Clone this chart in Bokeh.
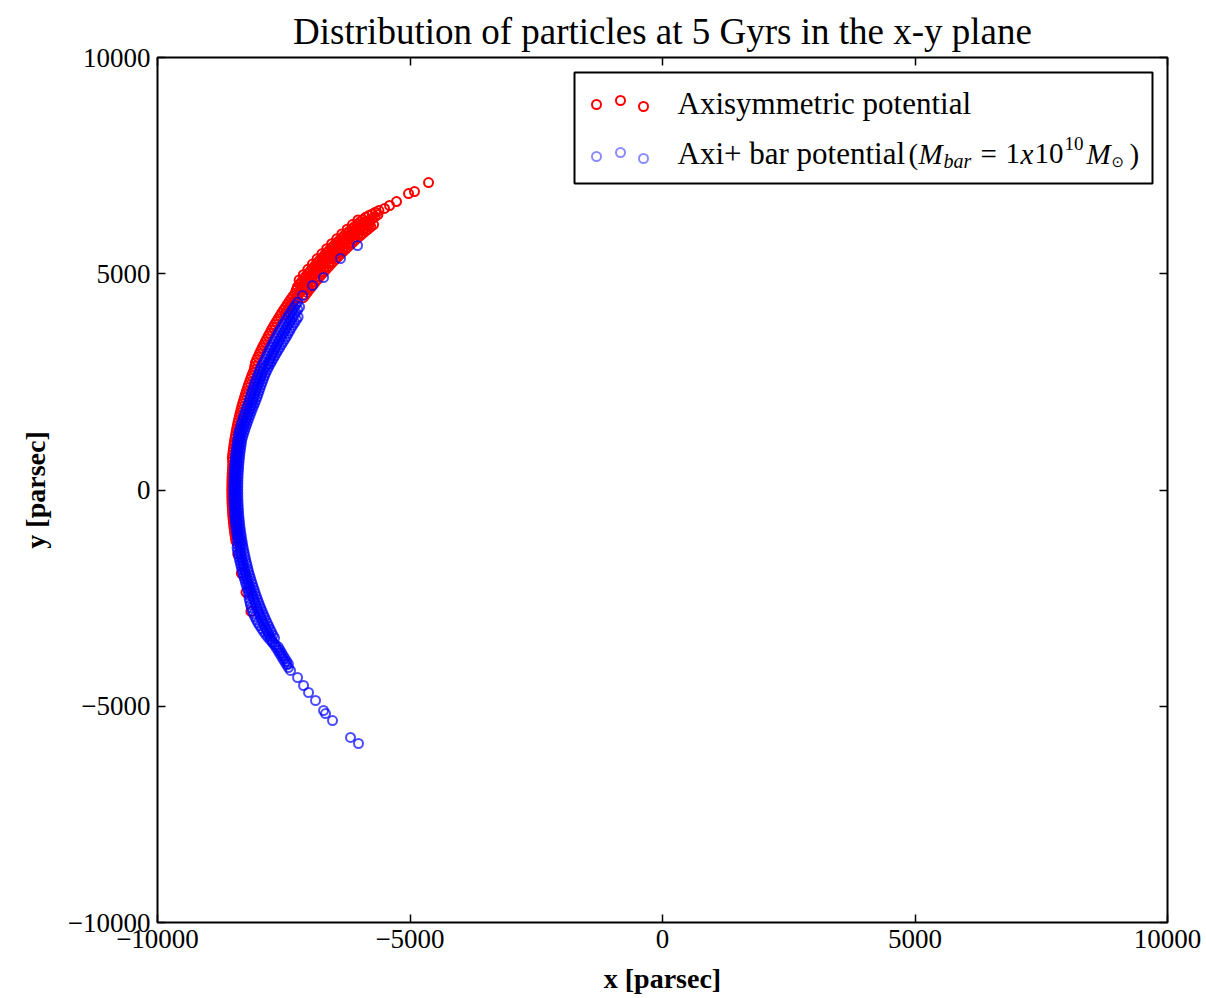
from bokeh.plotting import figure
from bokeh.models import Range1d, LinearAxis, FixedTicker, Label, BoxAnnotation
from bokeh.embed import file_html
from bokeh.resources import INLINE

TITLE = "Distribution of particles at 5 Gyrs in the x-y plane"
X_LABEL = "x [parsec]"
Y_LABEL = "y [parsec]"
tick_values = [-10000, -5000, 0, 5000, 10000]
tick_labels = ["\u221210000", "\u22125000", "0", "5000", "10000"]
series_names = ["Axisymmetric potential", "Axi+ bar potential"]

# ---------------- Axisymmetric potential (red) — particle (x, y) [pc]
red_sparse = [(-4633, 7109), (-4911, 6901), (-5029, 6855), (-5267, 6670), (-5405, 6578), (-5504, 6509)]
red_edge = [
    (-6030, 6244), (-6138, 6138), (-6244, 6030), (-6349, 5920), (-6450, 5808), (-6551, 5695), (-6649, 5580),
    (-6745, 5462), (-6840, 5344), (-6932, 5224), (-7022, 5102), (-7111, 4979), (-7196, 4854),
]
red_outer = [
    (-5616, 6460), (-5682, 6422), (-5748, 6383), (-5814, 6344), (-5879, 6305), (-5934, 6253), (-5988, 6200),
    (-6042, 6148), (-6095, 6095), (-6148, 6042), (-6200, 5988), (-6253, 5934), (-6305, 5879), (-6356, 5824),
    (-6406, 5768), (-6456, 5712), (-6506, 5656), (-6555, 5599), (-6603, 5541), (-6651, 5483), (-6699, 5425),
    (-6746, 5366), (-6793, 5307), (-6839, 5248), (-6884, 5188), (-6929, 5128), (-6974, 5067), (-7018, 5006),
    (-7062, 4944), (-7104, 4882), (-7146, 4820), (-7188, 4757), (-7230, 4694), (-7253, 4621), (-7276, 4547),
    (-7316, 4483), (-7355, 4419), (-7393, 4355), (-7430, 4290), (-7467, 4225), (-7504, 4160), (-7540, 4094),
    (-7575, 4028), (-7610, 3962), (-7645, 3895), (-7679, 3828), (-7712, 3761), (-7744, 3694), (-7776, 3626),
    (-7807, 3558), (-7838, 3489), (-7868, 3421), (-7898, 3352), (-7927, 3283), (-7955, 3214), (-7983, 3145),
    (-8010, 3075), (-8037, 3005), (-8063, 2934), (-8074, 2859), (-8084, 2784), (-8108, 2713), (-8132, 2642),
    (-8154, 2571), (-8176, 2500), (-8198, 2428), (-8219, 2356), (-8239, 2285), (-8258, 2213), (-8277, 2141),
    (-8296, 2068), (-8314, 1996), (-8331, 1924), (-8347, 1851), (-8363, 1778), (-8378, 1705), (-8393, 1631),
    (-8407, 1558), (-8420, 1484), (-8433, 1411), (-8445, 1337), (-8456, 1264), (-8467, 1190), (-8477, 1116),
    (-8486, 1042), (-8495, 968), (-8503, 893), (-8511, 820), (-8518, 746), (-8514, 671), (-8510, 595),
    (-8514, 521), (-8518, 446), (-8522, 372), (-8525, 298), (-8527, 224), (-8528, 149), (-8529, 75), (-8530, 0),
    (-8529, -75), (-8528, -149), (-8527, -224), (-8525, -298), (-8522, -372), (-8518, -446), (-8514, -521),
    (-8510, -595), (-8504, -670), (-8498, -744), (-8491, -818), (-8483, -892), (-8475, -966), (-8466, -1040),
    (-8457, -1114), (-8447, -1187),
    (-8410, -1483), (-8341, -1926), (-8248, -2365), (-8150, -2807),
]
red_outer_mid = [
    (-5893, 6209), (-6000, 6105), (-6105, 6000), (-6209, 5893), (-6311, 5783), (-6411, 5672), (-6509, 5560),
    (-6605, 5445), (-6699, 5329), (-6792, 5211), (-6881, 5091), (-6969, 4971), (-7054, 4848), (-7138, 4724),
]
red_mid = [
    (-5635, 6369), (-5691, 6320), (-5746, 6270), (-5800, 6221), (-5855, 6169), (-5908, 6118), (-5961, 6066),
    (-6014, 6014), (-6066, 5961), (-6118, 5908), (-6169, 5855), (-6221, 5800), (-6270, 5746), (-6320, 5691),
    (-6369, 5635), (-6419, 5580), (-6467, 5524), (-6515, 5467), (-6562, 5410), (-6609, 5352), (-6656, 5294),
    (-6702, 5237), (-6748, 5178), (-6792, 5118), (-6837, 5059), (-6881, 4999), (-6924, 4939), (-6967, 4878),
    (-7009, 4817), (-7051, 4756), (-7092, 4694), (-7133, 4632), (-7173, 4570), (-7212, 4507), (-7251, 4444),
    (-7290, 4380), (-7328, 4316), (-7365, 4253), (-7402, 4188), (-7438, 4123), (-7474, 4059),
]
red_inner_mid = [
    (-5814, 6126), (-5919, 6023), (-6023, 5919), (-6126, 5814), (-6226, 5705), (-6324, 5596), (-6422, 5485),
    (-6516, 5372), (-6609, 5257), (-6700, 5141), (-6789, 5023), (-6875, 4904), (-6960, 4783), (-7042, 4661),
]
red_inner = [
    (-5722, 6136), (-5776, 6086), (-5829, 6035), (-5881, 5984), (-5933, 5933), (-5984, 5881), (-6035, 5829),
    (-6086, 5776), (-6136, 5722), (-6186, 5668), (-6235, 5614), (-6284, 5560), (-6332, 5505), (-6380, 5449),
    (-6427, 5393), (-6474, 5337), (-6520, 5280), (-6566, 5223), (-6611, 5166), (-6656, 5108), (-6700, 5049),
    (-6744, 4991), (-6788, 4932), (-6831, 4872), (-6873, 4812), (-6914, 4752), (-6955, 4692), (-6996, 4631),
    (-7037, 4569), (-7076, 4508), (-7115, 4446),
]

# ---------------- Axi + bar potential (blue) — particle (x, y) [pc]
blue_sparse_top = [(-6039, 5653), (-6376, 5352), (-6712, 4913), (-6930, 4728), (-7128, 4497)]
blue_outer = [
    (-7226, 4341), (-7263, 4278), (-7300, 4215), (-7337, 4151), (-7373, 4087), (-7408, 4023), (-7443, 3958),
    (-7477, 3893), (-7511, 3827), (-7544, 3762), (-7577, 3696), (-7609, 3630), (-7640, 3563), (-7671, 3496),
    (-7701, 3428), (-7731, 3361), (-7760, 3294), (-7788, 3226), (-7816, 3158), (-7843, 3090), (-7870, 3021),
    (-7901, 2954), (-7931, 2886), (-7956, 2817), (-7980, 2748), (-8004, 2678), (-8027, 2608), (-8049, 2538),
    (-8071, 2468), (-8092, 2397), (-8113, 2326), (-8133, 2255), (-8152, 2184), (-8171, 2113), (-8189, 2042),
    (-8212, 1972), (-8234, 1901), (-8255, 1830), (-8275, 1759), (-8295, 1688), (-8314, 1616), (-8333, 1544),
    (-8351, 1472), (-8369, 1400), (-8386, 1328), (-8397, 1255), (-8408, 1182), (-8417, 1109), (-8426, 1035),
    (-8435, 961), (-8443, 887), (-8451, 814), (-8458, 740), (-8464, 667), (-8470, 593), (-8474, 519),
    (-8478, 444), (-8482, 370), (-8485, 296), (-8487, 222), (-8488, 148), (-8489, 74), (-8490, 0),
    (-8489, -74), (-8488, -148), (-8487, -222), (-8485, -296), (-8482, -370), (-8478, -444), (-8474, -519),
    (-8470, -593), (-8464, -667), (-8458, -740), (-8451, -814), (-8443, -887), (-8435, -961), (-8426, -1035),
    (-8417, -1109), (-8408, -1182), (-8417, -1258), (-8425, -1334), (-8413, -1408), (-8400, -1481),
    (-8387, -1555), (-8373, -1628), (-8358, -1701), (-8343, -1773), (-8328, -1846), (-8312, -1919),
    (-8295, -1991), (-8277, -2063), (-8258, -2136), (-8239, -2208), (-8220, -2280), (-8200, -2351),
    (-8193, -2427), (-8186, -2503), (-8173, -2577), (-8160, -2651), (-8141, -2724), (-8122, -2797),
    (-8097, -2868), (-8072, -2938), (-8041, -3007), (-8010, -3075), (-7974, -3141), (-7937, -3207),
    (-7899, -3272), (-7861, -3337), (-7818, -3399), (-7774, -3461), (-7730, -3523), (-7685, -3584),
    (-7649, -3649), (-7613, -3713), (-7580, -3779), (-7547, -3845), (-7513, -3911), (-7478, -3977),
    (-7443, -4042), (-7408, -4106),
]
blue_mid = [
    (-7186, 4233), (-7222, 4170), (-7258, 4107), (-7294, 4044), (-7329, 3980), (-7364, 3916), (-7398, 3851),
    (-7431, 3786), (-7463, 3721), (-7496, 3656), (-7528, 3590), (-7559, 3525), (-7589, 3459), (-7619, 3392),
    (-7648, 3325), (-7677, 3259), (-7705, 3192), (-7733, 3125), (-7760, 3057), (-7786, 2989), (-7812, 2921),
    (-7853, 2859), (-7894, 2796), (-7918, 2727), (-7942, 2657), (-7965, 2588), (-7987, 2518), (-8009, 2449),
    (-8030, 2379), (-8050, 2309), (-8070, 2238), (-8089, 2168), (-8108, 2097), (-8126, 2027), (-8144, 1956),
    (-8168, 1886), (-8191, 1816), (-8214, 1746), (-8236, 1676), (-8258, 1605), (-8279, 1534), (-8299, 1463),
    (-8319, 1392), (-8338, 1321), (-8357, 1249), (-8367, 1176), (-8377, 1103), (-8387, 1030), (-8396, 957),
    (-8404, 884), (-8411, 810), (-8418, 737), (-8424, 663), (-8429, 590), (-8434, 516), (-8438, 442),
    (-8442, 368), (-8445, 295), (-8447, 221), (-8449, 148), (-8450, 74), (-8450, 0), (-8450, -74),
    (-8449, -148), (-8447, -221), (-8445, -295), (-8442, -368), (-8438, -442), (-8434, -516), (-8429, -590),
    (-8424, -663), (-8418, -737), (-8411, -810), (-8404, -884), (-8396, -957), (-8387, -1030), (-8377, -1103),
    (-8367, -1176), (-8357, -1249), (-8361, -1324), (-8364, -1399), (-8351, -1472), (-8338, -1545),
    (-8324, -1618), (-8310, -1691), (-8295, -1764), (-8279, -1836), (-8263, -1908), (-8246, -1980),
    (-8228, -2052), (-8209, -2123), (-8190, -2195), (-8171, -2266), (-8151, -2337), (-8131, -2408),
    (-8109, -2479), (-8087, -2550), (-8065, -2621), (-8042, -2691), (-8018, -2761), (-7993, -2831),
    (-7968, -2901), (-7943, -2970), (-7917, -3039), (-7890, -3108), (-7863, -3177), (-7835, -3245),
    (-7806, -3313), (-7776, -3381), (-7746, -3449), (-7716, -3517), (-7663, -3573), (-7609, -3629),
    (-7577, -3695), (-7544, -3761), (-7511, -3827), (-7477, -3893), (-7443, -3958), (-7408, -4023),
]
blue_inner = [
    (-7215, 4000), (-7250, 3937), (-7284, 3873), (-7318, 3810), (-7351, 3746), (-7383, 3682), (-7415, 3617),
    (-7446, 3552), (-7477, 3486), (-7512, 3423), (-7546, 3359), (-7580, 3295), (-7613, 3231), (-7645, 3167),
    (-7677, 3102), (-7709, 3037), (-7740, 2971), (-7770, 2905), (-7800, 2839), (-7829, 2773), (-7857, 2706),
    (-7881, 2637), (-7904, 2568), (-7926, 2499), (-7947, 2430), (-7968, 2360), (-7988, 2290), (-8008, 2221),
    (-8027, 2151), (-8050, 2082), (-8073, 2013), (-8098, 1944), (-8122, 1875), (-8145, 1806), (-8167, 1736),
    (-8189, 1666), (-8211, 1596), (-8232, 1526), (-8253, 1455), (-8273, 1384), (-8292, 1313), (-8310, 1242),
    (-8328, 1171), (-8338, 1098), (-8347, 1025), (-8356, 952), (-8364, 879), (-8371, 806), (-8378, 733),
    (-8384, 660), (-8390, 587), (-8394, 514), (-8398, 440), (-8402, 367), (-8405, 294), (-8407, 221),
    (-8408, 147), (-8409, 74), (-8410, 0), (-8409, -74), (-8408, -147), (-8407, -221), (-8405, -294),
    (-8402, -367), (-8398, -440), (-8394, -514), (-8390, -587), (-8384, -660), (-8378, -733), (-8371, -806),
    (-8364, -879), (-8356, -952), (-8347, -1025), (-8338, -1098), (-8328, -1171), (-8318, -1243),
    (-8307, -1315), (-8295, -1388), (-8282, -1460), (-8269, -1533), (-8255, -1605), (-8241, -1677),
    (-8226, -1748), (-8211, -1820), (-8195, -1892), (-8178, -1963), (-8160, -2034), (-8142, -2105),
    (-8123, -2176), (-8104, -2247), (-8084, -2318), (-8064, -2389), (-8043, -2459), (-8021, -2529),
    (-7999, -2599), (-7976, -2669), (-7952, -2738), (-7928, -2807), (-7903, -2876), (-7877, -2945),
    (-7851, -3014), (-7825, -3082), (-7798, -3150), (-7770, -3218), (-7741, -3286), (-7712, -3353),
    (-7683, -3420),
]
blue_sparse_bottom = [(-7366, -4173), (-7227, -4335), (-7108, -4520), (-7009, -4682), (-6871, -4867),
                      (-6712, -5098), (-6673, -5168), (-6534, -5330), (-6178, -5722), (-6020, -5861)]

red_pts = red_sparse + red_edge + red_outer + red_outer_mid + red_mid + red_inner_mid + red_inner
blue_pts = blue_sparse_top + blue_outer + blue_mid + blue_inner + blue_sparse_bottom
red_x = [pt[0] for pt in red_pts]
red_y = [pt[1] for pt in red_pts]
blue_x = [pt[0] for pt in blue_pts]
blue_y = [pt[1] for pt in blue_pts]

SERIF = "Liberation Serif"

p = figure(width=1206, height=998,
           x_range=Range1d(-10000, 10000), y_range=Range1d(-10000, 10000),
           output_backend="svg", toolbar_location=None,
           x_axis_location=None, y_axis_location=None,
           min_border_left=157, min_border_right=39,
           min_border_top=57, min_border_bottom=76)
p.grid.visible = False
p.outline_line_color = "black"
p.outline_line_width = 2
p.background_fill_color = "white"
p.border_fill_color = "white"

p.title.text = TITLE
p.title.align = "center"
p.title.text_font = SERIF
p.title.text_font_size = "37px"
p.title.text_font_style = "normal"
p.title.text_color = "black"
p.title.offset = 0
p.title.standoff = 12


def make_axis(labels_visible, label=None):
    ax = LinearAxis(ticker=FixedTicker(ticks=tick_values),
                    major_label_overrides={v: t for v, t in zip(tick_values, tick_labels)})
    ax.major_tick_in = 8
    ax.major_tick_out = 0
    ax.minor_tick_in = 0
    ax.minor_tick_out = 0
    ax.axis_line_color = None
    ax.major_tick_line_color = "black"
    ax.major_tick_line_width = 1.5
    ax.major_label_text_font = SERIF
    if labels_visible:
        ax.major_label_text_color = "black"
        ax.major_label_text_font_size = "27px"
        ax.major_label_standoff = 7
    else:
        ax.major_label_text_color = None
        ax.major_label_text_font_size = "1px"
        ax.major_label_standoff = 0
    if label:
        ax.axis_label = label
        ax.axis_label_text_font = SERIF
        ax.axis_label_text_font_size = "28px"
        ax.axis_label_text_font_style = "bold"
        ax.axis_label_text_color = "black"
    return ax


bottom = make_axis(True, X_LABEL)
bottom.axis_label_standoff = 12
left = make_axis(True, Y_LABEL)
left.axis_label_standoff = 14
p.add_layout(bottom, "below")
p.add_layout(left, "left")
p.add_layout(make_axis(False), "above")
p.add_layout(make_axis(False), "right")

RED = "#ff0000"
BLUE = "#0000ff"
BLUE_ALPHA = 0.7
MSIZE = 9
MLW = 2.0

p.scatter(red_x, red_y, marker="circle", size=MSIZE,
          fill_color=None, line_color=RED, line_width=MLW)
p.scatter(blue_x, blue_y, marker="circle", size=MSIZE,
          fill_color=None, line_color=BLUE, line_alpha=BLUE_ALPHA, line_width=MLW)

# ---------------- legend (laid out in canvas-pixel space)
p.extra_x_ranges = {"px": Range1d(157, 1167)}
p.extra_y_ranges = {"px": Range1d(922, 57)}

p.add_layout(BoxAnnotation(left=574, right=1152, top=72, bottom=183,
                           x_range_name="px", y_range_name="px",
                           fill_color="white", fill_alpha=1.0,
                           line_color="black", line_alpha=1.0, line_width=2,
                           level="underlay"))

legend_marker_x = [596, 620, 643]
p.scatter(legend_marker_x, [104, 100, 106], x_range_name="px", y_range_name="px",
          marker="circle", size=MSIZE, fill_color=None, line_color=RED, line_width=MLW)
p.scatter(legend_marker_x, [156, 152, 158], x_range_name="px", y_range_name="px",
          marker="circle", size=MSIZE, fill_color=None, line_color=BLUE,
          line_alpha=0.45, line_width=MLW)


def lab(text, x, y, size="31px", style="normal", font=SERIF):
    p.add_layout(Label(x=x, y=y, x_range_name="px", y_range_name="px", text=text,
                       text_font=font, text_font_size=size, text_font_style=style,
                       text_color="black", text_baseline="middle", text_align="left"))


lab(series_names[0], 677, 103)
lab(series_names[1], 677, 153)
lab("(", 908, 153, size="29px")
lab("M", 918, 153, size="29px", style="italic")
lab("bar", 943, 160, size="20px", style="italic")
lab("=", 980, 153, size="29px")
lab("1", 1005, 153, size="29px")
lab("x", 1020, 153, size="29px", style="italic")
lab("10", 1034, 153, size="29px")
lab("10", 1064, 143, size="19px")
lab("M", 1086, 153, size="29px", style="italic")
lab("\u2299", 1111, 161, size="15px", font="DejaVu Sans")
lab(")", 1129, 153, size="29px")

open("out.html", "w").write(file_html(p, INLINE))
